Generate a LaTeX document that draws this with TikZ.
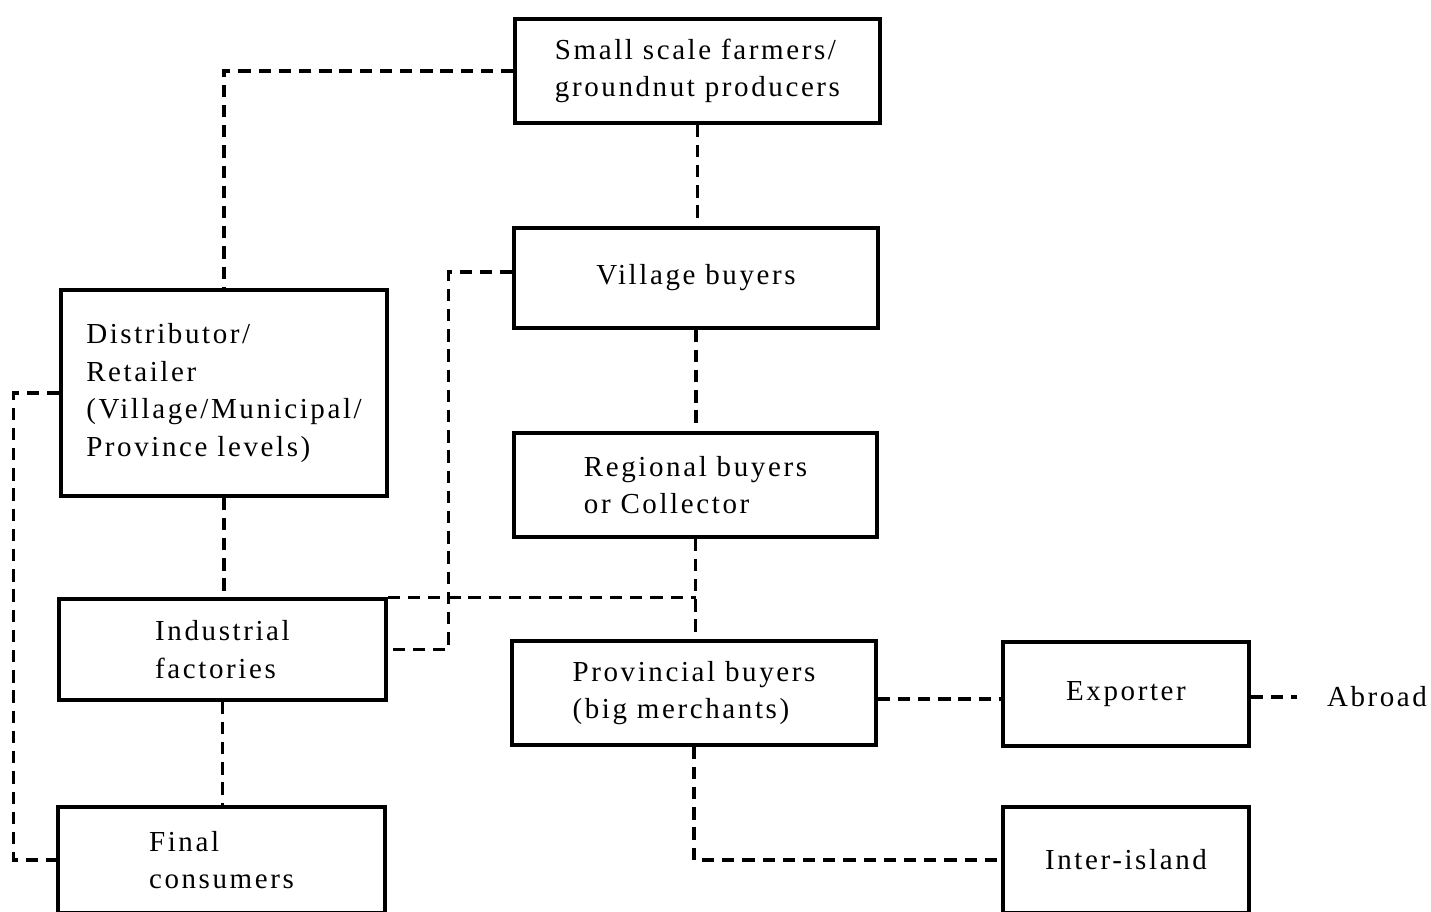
\documentclass[tikz,border=0pt]{standalone}
\usepackage{fontspec}
\setmainfont{Liberation Serif}[LetterSpace=9]
\begin{document}
\begin{tikzpicture}[x=0.02cm,y=-0.02cm,
  box/.style={draw, line width=1.9pt, rectangle, inner sep=0pt, align=left,
    font=\fontsize{16.5}{21.5}\selectfont},
  lbl/.style={inner sep=0pt, font=\fontsize{16.5}{21.5}\selectfont},
  link/.style={draw, line width=1.8pt, dash pattern=on 7pt off 4.5pt}]
\useasboundingbox (0,0) rectangle (1431,912);
\node[box, minimum width=7.3cm, minimum height=2.08cm] (farm) at (697.5,71)
  {Small scale farmers/\\groundnut producers};
\node[box, minimum width=7.28cm, minimum height=2.0cm] (vill) at (696,278)
  {Village buyers};
\node[box, minimum width=6.52cm, minimum height=4.12cm] (dist) at (224,393)
  {Distributor/\\Retailer\\(Village/Municipal/\\Province levels)};
\node[box, minimum width=7.26cm, minimum height=2.08cm] (reg) at (695.5,485)
  {Regional buyers\\or Collector};
\node[box, minimum width=6.54cm, minimum height=2.02cm] (ind) at (222.5,649.5)
  {Industrial\\factories};
\node[box, minimum width=7.28cm, minimum height=2.08cm] (prov) at (694,693)
  {Provincial buyers\\(big merchants)};
\node[box, minimum width=4.92cm, minimum height=2.08cm] (exp) at (1126,694)
  {Exporter};
\node[lbl] (abroad) at (1377,697) {Abroad};
\node[box, minimum width=4.92cm, minimum height=2.12cm] (inter) at (1126,860)
  {Inter-island};
\node[box, minimum width=6.54cm, minimum height=2.12cm] (fin) at (221.5,860)
  {Final\\consumers};
% connectors
\draw[link] (farm.west) -| (dist.north);
\draw[link] (farm.south) -- (farm.south |- vill.north);
\draw[link] (vill.south) -- (vill.south |- reg.north);
\draw[link] (reg.south) -- (reg.south |- prov.north);
\coordinate (j) at (reg.south |- ind.north);
\draw[link] (ind.north east) -- (j);
\draw[link] ([yshift=0.12cm]vill.west) -- ++(-64,0) |- (ind.east);
\draw[link] (dist.south) -- (dist.south |- ind.north);
\draw[link] (ind.south) -- (ind.south |- fin.north);
\draw[link] (dist.west) -- ++(-46,0) |- (fin.west);
\draw[link] ([yshift=-0.12cm]prov.east) -- ([yshift=-0.12cm]prov.east -| exp.west);
\coordinate (ab) at ([xshift=-0.6cm]abroad.west |- exp.east);
\draw[link] ([yshift=-0.06cm]exp.east) -- ([yshift=-0.06cm]ab);
\draw[link] (prov.south) |- (inter.west);
\end{tikzpicture}
\end{document}
